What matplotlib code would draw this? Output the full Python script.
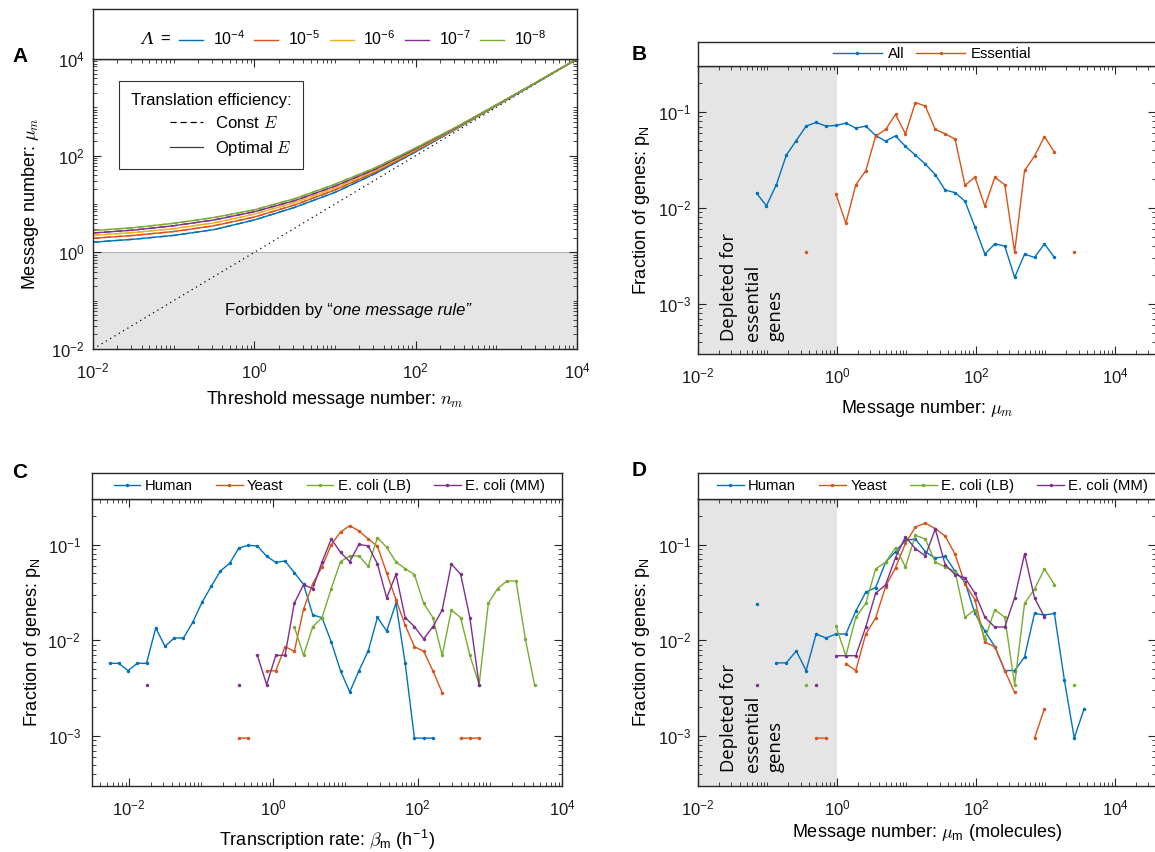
import numpy as np
import matplotlib
matplotlib.use("Agg")
import matplotlib.pyplot as plt
from matplotlib.lines import Line2D
from matplotlib.ticker import FixedLocator, LogLocator, NullFormatter

plt.rcParams["font.family"] = ["Liberation Sans", "DejaVu Sans"]
plt.rcParams["mathtext.fontset"] = "cm"

nan = np.nan

# MATLAB default colour order
BLUE, ORANGE, YELLOW, PURPLE, GREEN = "#0072BD", "#D95319", "#EDB120", "#7E2F8E", "#77AC30"
FRAME = "#262626"
SHADE = "#e5e5e5"

# ── Panel A data: optimal message number vs threshold ───────────────────────
lam_labels = [r"$\mathregular{10^{-4}}$", r"$\mathregular{10^{-5}}$", r"$\mathregular{10^{-6}}$",
              r"$\mathregular{10^{-7}}$", r"$\mathregular{10^{-8}}$"]
lam_colors = [BLUE, ORANGE, YELLOW, PURPLE, GREEN]
A_log_n = [-2, -1.5, -1, -0.5, 0, 0.5, 1, 1.5, 2, 2.5, 3, 3.5, 4]
A_log_mu = [
    [0.21, 0.27, 0.35, 0.47, 0.67, 0.93, 1.24, 1.63, 2.08, 2.55, 3.03, 3.51, 4.0],
    [0.29, 0.35, 0.43, 0.55, 0.73, 0.98, 1.29, 1.66, 2.10, 2.56, 3.04, 3.52, 4.0],
    [0.35, 0.41, 0.49, 0.61, 0.79, 1.03, 1.33, 1.69, 2.12, 2.57, 3.04, 3.52, 4.0],
    [0.40, 0.46, 0.55, 0.67, 0.84, 1.07, 1.37, 1.72, 2.14, 2.58, 3.05, 3.52, 4.0],
    [0.45, 0.51, 0.60, 0.72, 0.88, 1.11, 1.41, 1.75, 2.16, 2.59, 3.05, 3.52, 4.0],
]
A_identity = [1e-2, 1e4]

# ── Panels B and D share the same message-number bins (log10) ───────────────
BD_log_mu = [-1.158, -1.015, -0.872, -0.729, -0.586, -0.444, -0.301, -0.158, -0.015, 0.128,
             0.271, 0.414, 0.556, 0.699, 0.842, 0.985, 1.128, 1.271, 1.414, 1.556,
             1.699, 1.842, 1.985, 2.128, 2.271, 2.414, 2.556, 2.699, 2.842, 2.985,
             3.128, 3.271, 3.414, 3.556]

B_all = [0.0142, 0.0105, 0.0174, 0.0354, 0.0502, 0.0710, 0.0774, 0.0710, 0.0721, 0.0762,
         0.0676, 0.0710, 0.0567, 0.0494, 0.0562, 0.0436, 0.0354, 0.0285, 0.0222, 0.0153,
         0.0144, 0.0117, 0.0063, 0.00329, 0.00421, 0.00399, 0.00188, 0.00329, 0.00304, 0.00421,
         0.00304, nan, nan, nan]
B_essential = [nan, nan, nan, nan, nan, 0.00345, nan, nan, 0.01387, 0.00692,
               0.01738, 0.0243, 0.0558, 0.0655, 0.0938, 0.059, 0.125, 0.1146, 0.0655, 0.059,
               0.0519, 0.0172, 0.0208, 0.0104, 0.0208, 0.0174, 0.00345, 0.0245, 0.0345, 0.0553,
               0.038, nan, 0.00345, nan]

D_human = [0.0239, nan, 0.00581, 0.00581, 0.00774, 0.00483, 0.01164, 0.01057, 0.01164, 0.01164,
           0.0202, 0.0319, 0.0356, 0.0655, 0.0845, 0.111, 0.1146, 0.0845, 0.0721, 0.0756,
           0.0528, 0.0405, 0.0191, 0.0125, 0.00859, 0.00483, 0.00483, 0.0067, 0.0191, 0.01837,
           0.0191, 0.00386, 0.00095, 0.00193]
D_yeast = [nan, nan, nan, nan, nan, nan, 0.00095, 0.00095, nan, 0.00571,
           0.00483, 0.01164, 0.0171, 0.0365, 0.0575, 0.103, 0.1527, 0.168, 0.147, 0.123,
           0.0793, 0.0386, 0.0267, 0.00953, 0.00859, 0.00483, 0.00285, nan, 0.00095, 0.00193,
           nan, nan, nan, nan]
D_lb = [nan, nan, nan, nan, nan, 0.00345, nan, nan, 0.014, 0.0069,
        0.0174, 0.0243, 0.0558, 0.0655, 0.093, 0.0585, 0.125, 0.1146, 0.0655, 0.0585,
        0.0523, 0.0174, 0.0209, 0.0104, 0.0209, 0.0174, 0.00345, 0.0243, 0.0343, 0.0558,
        0.0383, nan, 0.00345, nan]
D_mm = [0.00345, nan, nan, nan, nan, nan, 0.00345, nan, 0.0069, 0.0069,
        0.0069, 0.01377, 0.0311, 0.038, 0.0733, 0.121, 0.0908, 0.0762, 0.1456, 0.0619,
        0.0487, 0.045, 0.0311, 0.0174, 0.01377, 0.01377, 0.0278, 0.080, 0.0278, 0.0175,
        nan, nan, nan, nan]

# ── Panel C: transcription-rate bins (log10) ─────────────────────────────────
C_log_beta = [-2.267, -2.139, -2.011, -1.883, -1.755, -1.627, -1.499, -1.371, -1.243, -1.115,
              -0.987, -0.859, -0.731, -0.603, -0.475, -0.347, -0.219, -0.091, 0.036, 0.164,
              0.292, 0.420, 0.548, 0.676, 0.804, 0.932, 1.060, 1.188, 1.316, 1.444,
              1.572, 1.700, 1.828, 1.956, 2.084, 2.212, 2.340, 2.468, 2.596, 2.724,
              2.852, 2.980, 3.108, 3.236, 3.364, 3.492, 3.620]

C_human = [0.00575, 0.00575, 0.00482, 0.00575, 0.00575, 0.01346, 0.00865, 0.01057, 0.01057, 0.01542,
           0.0249, 0.0366, 0.0531, 0.0638, 0.0923, 0.0984, 0.0969, 0.0755, 0.0653, 0.0675,
           0.0510, 0.0385, 0.0184, 0.01726, 0.00962, 0.00482, 0.00288, 0.00482, 0.00774, 0.01738,
           0.01252, 0.0244, 0.00575, 0.00095, 0.00095, 0.00095, nan, nan, nan, nan,
           nan, nan, nan, nan, nan, nan, nan]
C_yeast = [nan, nan, nan, nan, nan, nan, nan, nan, nan, nan,
           nan, nan, nan, nan, 0.00095, 0.00095, nan, 0.0048, 0.0048, 0.00859,
           0.00767, 0.0211, 0.0391, 0.0584, 0.100, 0.1355, 0.158, 0.139, 0.1145, 0.0961,
           0.0506, 0.0266, 0.01435, 0.00859, 0.00767, 0.0048, 0.00284, nan, 0.00095, 0.00095,
           0.00095, nan, nan, nan, nan, nan, nan]
C_lb = [nan, nan, nan, nan, nan, nan, nan, nan, nan, nan,
        nan, nan, nan, nan, nan, nan, nan, nan, nan, nan,
        0.0139, 0.00696, 0.0139, 0.01726, 0.0347, 0.0664, 0.0762, 0.0762, 0.0594, 0.1184,
        0.0938, 0.0659, 0.0561, 0.0486, 0.0244, 0.01726, 0.00696, 0.0207, 0.01726, 0.00696,
        0.00344, 0.0244, 0.0347, 0.0417, 0.0417, 0.01033, 0.00344]
C_mm = [nan, nan, nan, nan, 0.00344, nan, nan, nan, nan, nan,
        nan, nan, nan, nan, 0.00344, nan, 0.00696, 0.00344, 0.00696, 0.00696,
        0.0244, 0.0382, 0.0347, 0.0659, 0.1146, 0.0832, 0.0664, 0.1008, 0.0968, 0.0628,
        0.0277, 0.0490, 0.01726, 0.0139, 0.01033, 0.0139, 0.0207, 0.0628, 0.0490, 0.01726,
        0.00344, nan, nan, nan, nan, nan, nan]

species = ["Human", "Yeast", "E. coli (LB)", "E. coli (MM)"]
species_colors = [BLUE, ORANGE, GREEN, PURPLE]

# ── Layout helpers (pixel boxes on a 1155 x 852 canvas) ─────────────────────
W, H = 1155, 852
fig = plt.figure(figsize=(W / 100, H / 100), dpi=100)


def rect(left, top, right, bottom):
    return [left / W, 1 - bottom / H, (right - left) / W, (bottom - top) / H]


def frame(ax):
    for s in ax.spines.values():
        s.set_color(FRAME)
        s.set_linewidth(1.0)


def strip(left, top, right, bottom):
    a = fig.add_axes(rect(left, top, right, bottom))
    a.set_xticks([])
    a.set_yticks([])
    frame(a)
    return a


def log_axes(ax, xmajor, ymajor, ypad=5):
    ax.set_xscale("log")
    ax.set_yscale("log")
    ax.xaxis.set_major_locator(FixedLocator(xmajor))
    ax.yaxis.set_major_locator(FixedLocator(ymajor))
    for axis in (ax.xaxis, ax.yaxis):
        axis.set_minor_locator(LogLocator(base=10, subs=np.arange(1, 10), numticks=100))
        axis.set_minor_formatter(NullFormatter())
    ax.tick_params(which="both", direction="in", top=True, right=True, color=FRAME,
                   labelsize=12, labelcolor="#1a1a1a")
    ax.tick_params(which="major", length=5.5, width=0.8)
    ax.tick_params(which="minor", length=2.8, width=0.6)
    ax.tick_params(axis="x", pad=9)
    ax.tick_params(axis="y", pad=ypad)
    frame(ax)


def series_handle(color):
    return Line2D([], [], color=color, lw=1, marker="o", ms=2.5, mew=0)


LABEL_FS = 13
DEC = [1e-2, 1, 1e2, 1e4]
FRAC = [1e-3, 1e-2, 1e-1]

# ── Panel A ──────────────────────────────────────────────────────────────────
axA = fig.add_axes(rect(93, 59, 577, 349))
log_axes(axA, DEC, DEC, ypad=6)
axA.set_xlim(1e-2, 1e4)
axA.set_ylim(1e-2, 1e4)
axA.axhspan(1e-2, 1, facecolor=SHADE, edgecolor="none", zorder=0)
axA.axhline(1, color="#b5b5b5", lw=0.8, zorder=1)
axA.plot(A_identity, A_identity, color="k", ls=(0, (1, 3)), lw=0.9)

n_vals = 10 ** np.array(A_log_n)
for mu, c in zip(A_log_mu, lam_colors):
    axA.plot(n_vals, 10 ** np.array(mu), color=c, lw=1, ls=(0, (5, 3)))
    axA.plot(n_vals, 10 ** np.array(mu), color=c, lw=1)

t1 = axA.text((225 - 93) / 484, 0.134, "Forbidden by \u201c", transform=axA.transAxes,
              fontsize=12, ha="left", va="center")
axA.annotate("one message rule\u201d", xy=(1, 0), xycoords=t1, fontsize=12,
             style="italic", ha="left", va="bottom")

legA = axA.legend([Line2D([], [], color="k", lw=0.9, ls=(0, (5, 3))),
                   Line2D([], [], color="#3a3a3a", lw=0.9)],
                  ["Const $E$", "Optimal $E$"], title="Translation efficiency:",
                  loc="upper left", bbox_to_anchor=((119 - 93) / 484, 1 - (81 - 59) / 290),
                  borderaxespad=0, frameon=True, fancybox=False, fontsize=12,
                  title_fontsize=12, handlelength=2.0, handletextpad=0.7,
                  borderpad=0.7, labelspacing=0.45)
legA.set_alignment("right")
legA.get_frame().set_edgecolor("k")
legA.get_frame().set_linewidth(0.8)

axA.set_xlabel("Threshold message number: $n_m$", fontsize=LABEL_FS)
axA.set_ylabel(r"Message number: $\mu_m$", fontsize=LABEL_FS)
axA.xaxis.set_label_coords(0.5, -0.138)
axA.yaxis.set_label_coords(-0.107, 0.5)

stA = strip(93, 9, 577, 59)
stA.legend([Line2D([], [], color=c, lw=1) for c in lam_colors], lam_labels,
           loc="center", bbox_to_anchor=(0.557, 0.4), ncol=5, frameon=False,
           fontsize=11.5, handlelength=1.5, handletextpad=0.6, columnspacing=0.6)
stA.text((141 - 93) / 484, 0.4, "\u039b", transform=stA.transAxes, family="DejaVu Serif",
         style="italic", fontsize=12, ha="left", va="center")
stA.text((160 - 93) / 484, 0.4, "=", transform=stA.transAxes,
         fontsize=12, ha="left", va="center")

# ── Panel B ──────────────────────────────────────────────────────────────────
axB = fig.add_axes(rect(698, 66, 1156, 354))
log_axes(axB, DEC, FRAC)
axB.set_xlim(1e-2, 10 ** 4.59)
axB.set_ylim(3e-4, 0.3)
axB.axvspan(1e-2, 1, facecolor=SHADE, edgecolor="none", zorder=0)
bd_mu = 10 ** np.array(BD_log_mu)
axB.plot(bd_mu, B_all, color=BLUE, lw=1, marker="o", ms=2.5, mew=0)
axB.plot(bd_mu, B_essential, color=ORANGE, lw=1, marker="o", ms=2.5, mew=0)
axB.text(0.048, 0.045, "Depleted for\nessential\ngenes", transform=axB.transAxes,
         rotation=90, ha="left", va="bottom", multialignment="left",
         family="Open Sans", fontsize=13.3, linespacing=1.4)
axB.set_xlabel(r"Message number: $\mu_m$", fontsize=LABEL_FS)
axB.set_ylabel(r"Fraction of genes: p$_\mathregular{N}$", fontsize=LABEL_FS)
axB.xaxis.set_label_coords(0.5, -0.153)
axB.yaxis.set_label_coords(-0.100, 0.5)

stB = strip(698, 42, 1156, 66)
stB.legend([series_handle(BLUE), series_handle(ORANGE)], ["All", "Essential"],
           loc="center", bbox_to_anchor=(0.511, 0.5), ncol=2, frameon=False,
           fontsize=10.7, handlelength=3.3, handletextpad=0.4, columnspacing=0.8,
           numpoints=1)

# ── Panel C ──────────────────────────────────────────────────────────────────
axC = fig.add_axes(rect(92, 499, 562, 786))
log_axes(axC, DEC, FRAC, ypad=8)
axC.set_xlim(10 ** -2.51, 1e4)
axC.set_ylim(3e-4, 0.3)
beta = 10 ** np.array(C_log_beta)
for ys, c in zip([C_human, C_yeast, C_lb, C_mm], species_colors):
    axC.plot(beta, ys, color=c, lw=1, marker="o", ms=2.5, mew=0)
axC.set_xlabel(r"Transcription rate: $\beta_\mathregular{m}$ (h$^\mathregular{-1}$)",
               fontsize=LABEL_FS)
axC.set_ylabel(r"Fraction of genes: p$_\mathregular{N}$", fontsize=LABEL_FS)
axC.xaxis.set_label_coords(0.5, -0.146)
axC.yaxis.set_label_coords(-0.104, 0.5)

stC = strip(92, 473, 562, 499)
stC.legend([series_handle(c) for c in species_colors], species, loc="center",
           bbox_to_anchor=(0.505, 0.5), ncol=4, frameon=False, fontsize=10.7,
           handlelength=1.8, handletextpad=0.3, columnspacing=1.55, numpoints=1)

# ── Panel D ──────────────────────────────────────────────────────────────────
axD = fig.add_axes(rect(698, 499, 1156, 786))
log_axes(axD, DEC, FRAC)
axD.set_xlim(1e-2, 10 ** 4.59)
axD.set_ylim(3e-4, 0.3)
axD.axvspan(1e-2, 1, facecolor=SHADE, edgecolor="none", zorder=0)
for ys, c in zip([D_human, D_yeast, D_lb, D_mm], species_colors):
    axD.plot(bd_mu, ys, color=c, lw=1, marker="o", ms=2.5, mew=0)
axD.text(0.048, 0.049, "Depleted for\nessential\ngenes", transform=axD.transAxes,
         rotation=90, ha="left", va="bottom", multialignment="left",
         family="Open Sans", fontsize=13.3, linespacing=1.4)
axD.set_xlabel(r"Message number: $\mu_\mathregular{m}$ (molecules)", fontsize=LABEL_FS)
axD.set_ylabel(r"Fraction of genes: p$_\mathregular{N}$", fontsize=LABEL_FS)
axD.xaxis.set_label_coords(0.5, -0.125)
axD.yaxis.set_label_coords(-0.100, 0.5)

stD = strip(698, 473, 1156, 499)
stD.legend([series_handle(c) for c in species_colors], species, loc="center",
           bbox_to_anchor=(0.512, 0.5), ncol=4, frameon=False, fontsize=10.7,
           handlelength=1.8, handletextpad=0.3, columnspacing=1.55, numpoints=1)

# ── Panel letters ────────────────────────────────────────────────────────────
for letter, x, y in [("A", 20, 56), ("B", 639, 55), ("C", 20, 473), ("D", 639, 470)]:
    fig.text(x / W, 1 - y / H, letter, fontsize=15, fontweight="bold",
             ha="center", va="center")

fig.savefig("out.png", dpi=100)
